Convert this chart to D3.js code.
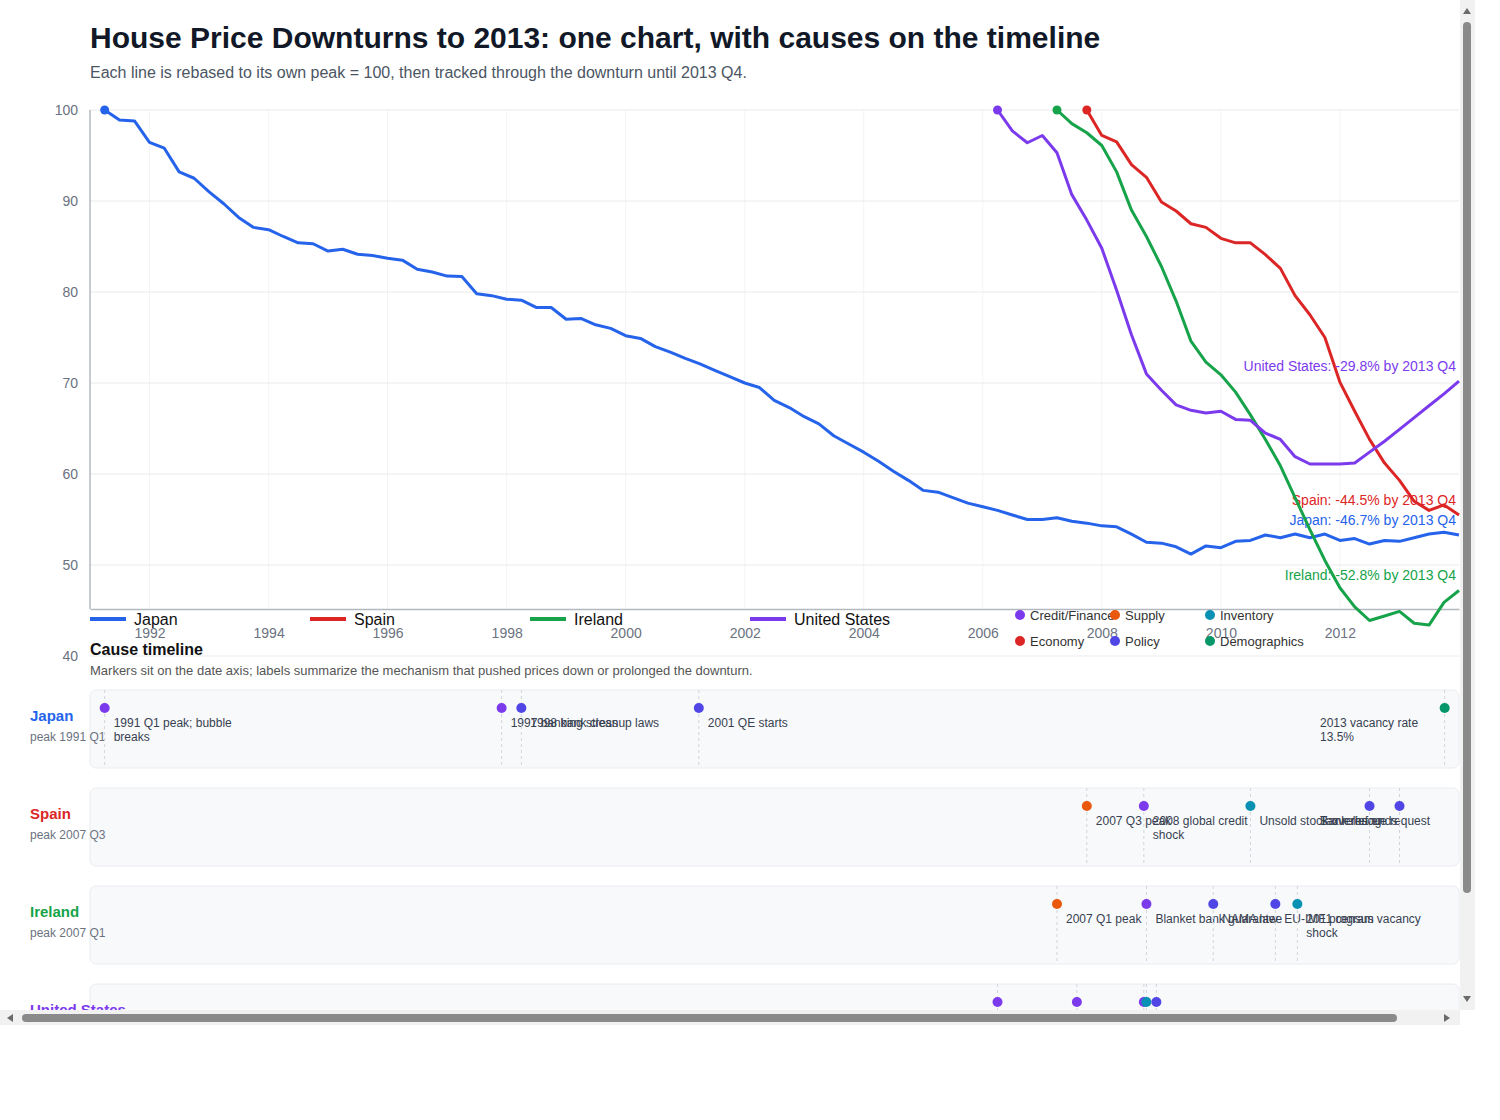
<!DOCTYPE html>
<html>
<head>
<meta charset="utf-8">
<script src="https://cdn.jsdelivr.net/npm/d3@7"></script>
<style>
body { margin: 0; background: #fff; font-family: "Liberation Sans", Arial, sans-serif; }
#wrap { position: absolute; left: 0; top: 0; width: 1475px; height: 1025px; overflow: hidden; }
#bars { position: absolute; left: 0; top: 0; }
svg text { font-family: "Liberation Sans", Arial, sans-serif; }
</style>
</head>
<body>
<div id="wrap"><svg id="chart" width="1510" height="1125"></svg></div>
<svg id="bars" width="1475" height="1025"></svg>
<script>
// data
var countries = ["Japan", "Spain", "Ireland", "United States"];
var peakQuarters = ["1991 Q1", "2007 Q3", "2007 Q1", "2006 Q1"];
var tickYears = [1992, 1994, 1996, 1998, 2000, 2002, 2004, 2006, 2008, 2010, 2012];
var yTicks = [40, 50, 60, 70, 80, 90, 100];

var japan = [100, 98.9, 98.8, 96.45, 95.8, 93.2, 92.5, 91.0, 89.7, 88.2,
  87.1, 86.85, 86.1, 85.4, 85.3, 84.5, 84.7, 84.15, 84.0, 83.7,
  83.5, 82.5, 82.2, 81.75, 81.7, 79.8, 79.6, 79.2, 79.1, 78.3,
  78.3, 77.0, 77.1, 76.4, 76.0, 75.2, 74.9, 74.0, 73.4, 72.7,
  72.1, 71.4, 70.7, 70.0, 69.5, 68.1, 67.3, 66.3, 65.5, 64.2,
  63.3, 62.4, 61.4, 60.3, 59.3, 58.2, 58.0, 57.4, 56.8, 56.4,
  56.0, 55.5, 55.0, 55.0, 55.2, 54.8, 54.6, 54.3, 54.2, 53.4,
  52.5, 52.4, 52.0, 51.2, 52.1, 51.9, 52.6, 52.7, 53.3, 53.0,
  53.4, 53.0, 53.4, 52.7, 52.9, 52.3, 52.7, 52.6, 53.0, 53.4,
  53.6, 53.3];
var spain = [100, 97.2, 96.5, 94.0, 92.6, 89.9, 88.9, 87.5, 87.1, 85.9, 85.4, 85.4, 84.1,
  82.6, 79.6, 77.5, 75.0, 70.1, 66.9, 63.8, 61.2, 59.3, 57.0, 56.0, 56.6, 55.5];
var ireland = [100, 98.5, 97.5, 96.1, 93.2, 89.0, 86.1, 82.8, 79.0, 74.6, 72.3, 70.9, 69.0, 66.5,
  63.8, 60.9, 57.4, 53.9, 50.5, 47.5, 45.4, 43.9, 44.4, 44.9, 43.6, 43.4, 45.9, 47.2];
var unitedStates = [100, 97.7, 96.4, 97.2, 95.3, 90.7, 87.9, 84.8, 80.2, 75.3, 71.0, 69.2, 67.6, 67.0,
  66.7, 66.9, 66.0, 65.9, 64.5, 63.8, 61.9, 61.1, 61.1, 61.1, 61.2, 62.4, 63.6, 64.9, 66.2, 67.5, 68.8, 70.2];

var categories = ["Credit/Finance", "Supply", "Inventory", "Economy", "Policy", "Demographics"];

var japanEvents = [
  ["1991-04-01", "Credit/Finance", "1991 Q1 peak; bubble breaks"],
  ["1997-12-01", "Credit/Finance", "1997 banking stress"],
  ["1998-04-01", "Policy", "1998 bank cleanup laws"],
  ["2001-03-25", "Policy", "2001 QE starts"],
  ["2013-10-05", "Demographics", "2013 vacancy rate 13.5%"]
];
var spainEvents = [
  ["2007-10-01", "Supply", "2007 Q3 peak"],
  ["2008-09-15", "Credit/Finance", "2008 global credit shock"],
  ["2010-07-01", "Inventory", "Unsold stock overhang"],
  ["2012-07-01", "Policy", "Bank rescue request"],
  ["2013-01-01", "Policy", "Tax relief ends"]
];
var irelandEvents = [
  ["2007-04-01", "Supply", "2007 Q1 peak"],
  ["2008-10-01", "Credit/Finance", "Blanket bank guarantee"],
  ["2009-11-15", "Policy", "NAMA law"],
  ["2010-12-01", "Policy", "EU-IMF program"],
  ["2011-04-15", "Inventory", "2011 census vacancy shock"]
];
var usEvents = [
  ["2006-04-01", "Credit/Finance", "2006 Q1 peak"],
  ["2007-08-01", "Credit/Finance", "2007 credit crunch"],
  ["2008-09-15", "Credit/Finance", "Lehman shock"],
  ["2008-10-01", "Inventory", "Foreclosure overhang"],
  ["2008-12-01", "Policy", "Fed cuts to zero"]
];

var seriesValues = [japan, spain, ireland, unitedStates];
var allEvents = [japanEvents, spainEvents, irelandEvents, usEvents];

// styles
var lineColors = ["#2563eb", "#dc2626", "#16a34a", "#7c3aed"];
var catColors = ["#7c3aed", "#ea580c", "#0891b2", "#dc2626", "#4f46e5", "#059669"];

var svg = d3.select("#chart");
var left = 90, right = 1459, plotTop = 110, axisY = 609;

var x = d3.scaleTime().domain([new Date(1991, 0, 1), new Date(2014, 0, 1)]).range([left, right]);
var y = d3.scaleLinear().domain([40, 100]).range([656, 110]);
var catColor = d3.scaleOrdinal().domain(categories).range(catColors);

function quarterDate(label, i) {
  var yr = +label.slice(0, 4), q = +label.slice(6);
  return new Date(yr, q * 3 + i * 3, 1);
}

// title
svg.append("text").attr("x", 90).attr("y", 48).attr("font-size", 30).attr("font-weight", "bold")
  .attr("fill", "#111827").text("House Price Downturns to 2013: one chart, with causes on the timeline");
svg.append("text").attr("x", 90).attr("y", 78).attr("font-size", 16).attr("fill", "#4b5563")
  .text("Each line is rebased to its own peak = 100, then tracked through the downturn until 2013 Q4.");

// grid
svg.append("g").selectAll("line").data(tickYears).join("line")
  .attr("x1", d => x(new Date(d, 0, 1))).attr("x2", d => x(new Date(d, 0, 1)))
  .attr("y1", plotTop).attr("y2", axisY)
  .attr("stroke", "#f3f4f6");
svg.append("g").selectAll("line").data(yTicks).join("line")
  .attr("x1", left).attr("x2", right)
  .attr("y1", d => y(d)).attr("y2", d => y(d))
  .attr("stroke", "#e9eaee");

// axes
var xAxis = svg.append("g").attr("transform", "translate(0," + axisY + ")")
  .call(d3.axisBottom(x).tickValues(tickYears.map(d => new Date(d, 0, 1)))
    .tickFormat(d3.timeFormat("%Y")).tickSize(0).tickPadding(19));
xAxis.select(".domain").attr("stroke", "#b4b8c0").attr("stroke-width", 1.5);
xAxis.selectAll("text").attr("font-size", 14).attr("fill", "#6b7280");

var yAxis = svg.append("g").attr("transform", "translate(" + left + ",0)")
  .call(d3.axisLeft(y).tickValues(yTicks).tickSize(0).tickPadding(12));
yAxis.select(".domain").remove();
yAxis.selectAll("text").attr("font-size", 14).attr("fill", "#6b7280");
svg.append("line").attr("x1", left).attr("x2", left).attr("y1", plotTop).attr("y2", axisY)
  .attr("stroke", "#b4b8c0").attr("stroke-width", 1.5);

// lines
var line = d3.line().x(d => x(d.date)).y(d => y(d.value));
countries.forEach(function (c, ci) {
  var pts = seriesValues[ci].map((v, i) => ({ date: quarterDate(peakQuarters[ci], i), value: v }));
  svg.append("path").datum(pts).attr("d", line).attr("fill", "none")
    .attr("stroke", lineColors[ci]).attr("stroke-width", 3).attr("stroke-linejoin", "round");
  svg.append("circle").attr("cx", x(pts[0].date)).attr("cy", y(pts[0].value)).attr("r", 4.5)
    .attr("fill", lineColors[ci]);
  var last = pts[pts.length - 1];
  svg.append("text").attr("x", right - 3).attr("y", y(last.value) - 10)
    .attr("text-anchor", "end").attr("font-size", 14).attr("fill", lineColors[ci])
    .text(c + ": " + (last.value - 100).toFixed(1) + "% by 2013 Q4");
});

// series legend
var leg = svg.append("g").selectAll("g").data(countries).join("g")
  .attr("transform", (d, i) => "translate(" + (90 + i * 220) + ",619)");
leg.append("line").attr("x1", 0).attr("x2", 36).attr("stroke", (d, i) => lineColors[i]).attr("stroke-width", 4);
leg.append("text").attr("x", 44).attr("y", 6).attr("font-size", 16).attr("fill", "#111").text(d => d);

// cause legend
var cleg = svg.append("g").selectAll("g").data(categories).join("g")
  .attr("transform", (d, i) => "translate(" + (1020 + (i % 3) * 95) + "," + (615 + Math.floor(i / 3) * 26) + ")");
cleg.append("circle").attr("r", 5).attr("fill", d => catColor(d));
cleg.append("text").attr("x", 10).attr("y", 4.5).attr("font-size", 13).attr("fill", "#333").text(d => d);

// cause timeline
svg.append("text").attr("x", 90).attr("y", 655).attr("font-size", 16).attr("font-weight", "bold")
  .attr("fill", "#111").text("Cause timeline");
svg.append("text").attr("x", 90).attr("y", 675).attr("font-size", 13).attr("fill", "#555")
  .text("Markers sit on the date axis; labels summarize the mechanism that pushed prices down or prolonged the downturn.");

function wrap(s) {
  var words = s.split(" "), lines = [], cur = "";
  words.forEach(function (w) {
    if (cur && (cur + " " + w).length > 22) { lines.push(cur); cur = w; }
    else cur = cur ? cur + " " + w : w;
  });
  lines.push(cur);
  return lines;
}

countries.forEach(function (c, ci) {
  var rowTop = 690 + ci * 98;
  var g = svg.append("g");
  g.append("rect").attr("x", left).attr("y", rowTop).attr("width", right - left).attr("height", 78)
    .attr("rx", 6).attr("fill", "#f8f9fb").attr("stroke", "#eaecf0");
  g.append("text").attr("x", 30).attr("y", rowTop + 31).attr("font-size", 15).attr("font-weight", "bold")
    .attr("fill", lineColors[ci]).text(c);
  g.append("text").attr("x", 30).attr("y", rowTop + 51).attr("font-size", 12).attr("fill", "#6b7280")
    .text("peak " + peakQuarters[ci]);

  var ev = g.selectAll("g.ev").data(allEvents[ci]).join("g").attr("class", "ev");
  ev.append("line")
    .attr("x1", d => x(new Date(d[0]))).attr("x2", d => x(new Date(d[0])))
    .attr("y1", rowTop).attr("y2", rowTop + 78)
    .attr("stroke", "#d1d5db").attr("stroke-dasharray", "3,3");
  ev.append("circle").attr("cx", d => x(new Date(d[0]))).attr("cy", rowTop + 18).attr("r", 5)
    .attr("fill", d => catColor(d[1]));
  // label box is 130 wide and kept inside the row
  ev.append("text")
    .attr("transform", function (d) {
      var tx = Math.min(x(new Date(d[0])) + 9, right - 139);
      return "translate(" + tx + "," + (rowTop + 37) + ")";
    })
    .attr("font-size", 12).attr("fill", "#374151")
    .selectAll("tspan").data(d => wrap(d[2])).join("tspan")
    .attr("x", 0).attr("dy", (d, i) => i ? 14 : 0).text(d => d);
});

// scrollbars of the clipped frame
var bars = d3.select("#bars");
bars.append("rect").attr("x", 1460).attr("y", 0).attr("width", 15).attr("height", 1025).attr("fill", "#f1f1f1");
bars.append("rect").attr("x", 0).attr("y", 1010).attr("width", 1475).attr("height", 15).attr("fill", "#f1f1f1");
bars.append("rect").attr("x", 1460).attr("y", 1010).attr("width", 15).attr("height", 15).attr("fill", "#fff");
bars.append("rect").attr("x", 1463).attr("y", 22).attr("width", 8).attr("height", 871).attr("rx", 4).attr("fill", "#8a8a8a");
bars.append("rect").attr("x", 22).attr("y", 1014).attr("width", 1375).attr("height", 8).attr("rx", 4).attr("fill", "#8a8a8a");
bars.append("path").attr("d", "M1467,8 L1471,14 L1463,14 Z").attr("fill", "#6b6b6b");
bars.append("path").attr("d", "M1467,1002 L1471,996 L1463,996 Z").attr("fill", "#6b6b6b");
bars.append("path").attr("d", "M7,1018 L13,1014 L13,1022 Z").attr("fill", "#6b6b6b");
bars.append("path").attr("d", "M1450,1018 L1444,1014 L1444,1022 Z").attr("fill", "#6b6b6b");
</script>
</body>
</html>
